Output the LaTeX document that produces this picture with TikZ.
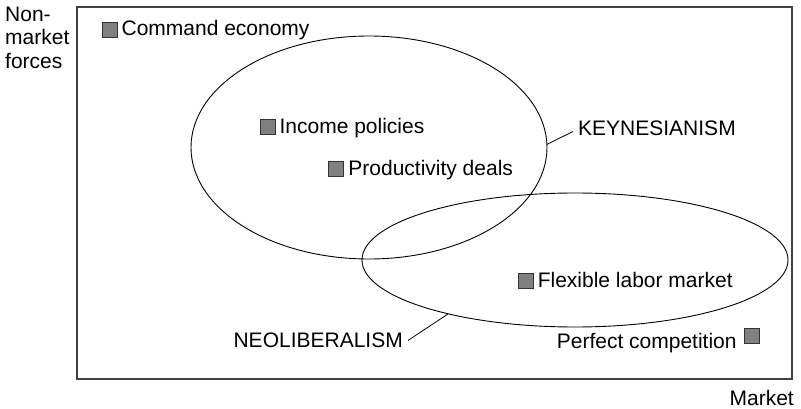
\documentclass[tikz,border=0pt]{standalone}
\usepackage{fontspec}
\setmainfont{Liberation Sans}
\usetikzlibrary{shapes,positioning,calc}
\tikzset{
    txt/.style={inner sep=0pt, font=\fontsize{21}{23.3}\selectfont},
    square/.style={rectangle, draw=black!80, fill=black!50, minimum size=15pt, inner sep=0pt, line width=0.8pt},
    region/.style={ellipse, draw, inner sep=0pt, outer sep=0pt, line width=0.9pt},
    tag/.style={txt, inner xsep=5pt},
    lead/.style={draw, line width=0.8pt},
    frame/.style={draw=black!75, line width=1.3pt}
}

\begin{document}
\begin{tikzpicture}[x=1pt, y=-1pt]
    \useasboundingbox (0,0) rectangle (801,409);

    % the plane and its two axes
    \draw [frame] (77,7) rectangle (792,379);
    \node [txt, align=left, anchor=north west] (nonmarket) at (5,7) {Non-\\market\\forces};
    \node [txt, anchor=base east] (market) at (794,405) {Market};

    % the two schools
    \node [region, minimum width=356pt, minimum height=223pt] (keynes) at (369,147.5) {};
    \node [region, minimum width=426pt, minimum height=134pt] (neolib) at (575,260) {};
    \node [tag, anchor=base west] (keyn) at (573,135.7) {KEYNESIANISM};
    \node [tag, anchor=base east] (neo) at (408,347.7) {NEOLIBERALISM};
    \path [lead] (keynes.1.5) -- ([yshift=-3pt]keyn.west);
    \path [lead] (neolib.203) -- (neo.east);

    % policies
    \node [square] (command) at (109.5,29.5) {};
    \node [square] (income) at (267.5,126.7) {};
    \node [square] (product) at (336.3,169.2) {};
    \node [square] (flexible) at (525.7,281) {};
    \node [square] (perfect) at (751.7,335.5) {};

    \node [txt, anchor=base west] (commandtxt) at ([xshift=4pt, yshift=1.5pt]command.south east) {Command economy};
    \node [txt, anchor=base west] (incometxt) at ([xshift=4pt, yshift=1.5pt]income.south east) {Income policies};
    \node [txt, anchor=base west] (producttxt) at ([xshift=4pt, yshift=1.5pt]product.south east) {Productivity deals};
    \node [txt, anchor=base west] (flexibletxt) at ([xshift=4pt, yshift=1.5pt]flexible.south east) {Flexible labor market};
    \node [txt, anchor=base east] (perfecttxt) at ([xshift=-7pt, yshift=-5.5pt]perfect.south west) {Perfect competition};
\end{tikzpicture}
\end{document}
